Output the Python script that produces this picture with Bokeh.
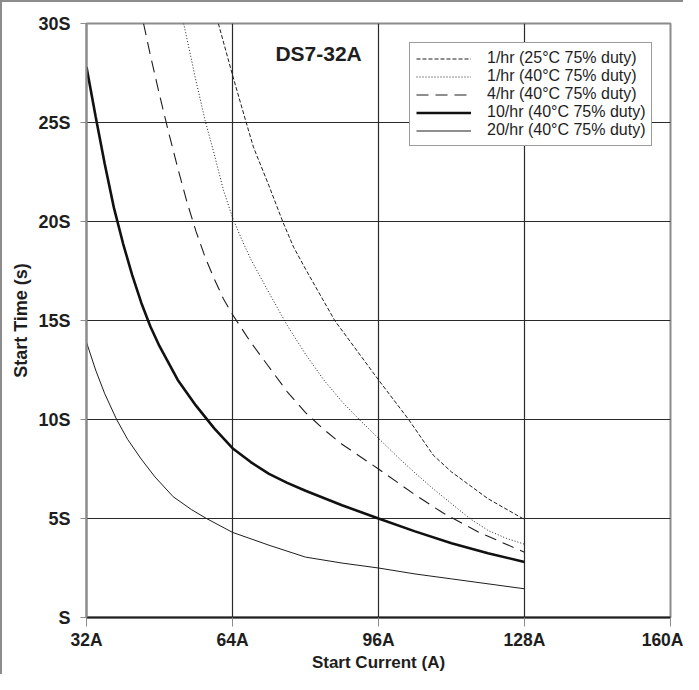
from bokeh.plotting import figure
from bokeh.models import FixedTicker, Legend, LegendItem, Label
from bokeh.embed import file_html
from bokeh.resources import INLINE

# ---- data ----
x_ticks = [32, 64, 96, 128, 160]
x_tick_labels = ["32A", "64A", "96A", "128A", "160A"]
y_ticks = [0, 5, 10, 15, 20, 25, 30]
y_tick_labels = ["S", "5S", "10S", "15S", "20S", "25S", "30S"]

series_names = [
    "1/hr (25°C 75% duty)",
    "1/hr (40°C 75% duty)",
    "4/hr (40°C 75% duty)",
    "10/hr (40°C 75% duty)",
    "20/hr (40°C 75% duty)",
]

x_1hr_25 = [60.9, 64, 67, 68.6, 72, 75, 77.4, 80, 86.4, 96, 102.6, 108, 112, 120, 128]
y_1hr_25 = [30, 27.4, 25.0, 23.75, 21.8, 20.0, 18.7, 17.6, 15.0, 12.0, 10.0, 8.2, 7.35, 6.0, 4.95]

x_1hr_40 = [53.3, 56, 58, 60, 62, 64, 66, 68, 72, 76, 80, 84, 88, 92, 96, 100, 104, 108, 112, 116, 120, 124, 128]
y_1hr_40 = [30, 27.1, 25.1, 23.4, 21.6, 20.2, 19.1, 18.1, 16.4, 14.75, 13.3, 12.0, 10.9, 9.95, 9.05, 8.15, 7.3, 6.5, 5.75, 5.0, 4.4, 4.0, 3.7]

x_4hr = [44.5, 46, 48, 50, 52, 54, 56, 58, 60, 62, 64, 68, 72, 76, 80, 84, 88, 96, 104, 110, 118, 128]
y_4hr = [30, 28.4, 26.4, 24.5, 22.7, 21.0, 19.5, 18.2, 17.1, 16.1, 15.3, 13.9, 12.65, 11.4, 10.35, 9.5, 8.75, 7.5, 6.2, 5.3, 4.3, 3.3]

x_10hr = [32, 34, 36, 38, 40, 42, 44, 46, 48, 52, 56, 60, 64, 68, 72, 76, 80, 88, 96, 104, 112, 120, 128]
y_10hr = [27.8, 25.3, 22.9, 20.7, 18.9, 17.3, 15.9, 14.7, 13.7, 12.0, 10.7, 9.55, 8.55, 7.85, 7.25, 6.8, 6.4, 5.67, 5.0, 4.35, 3.75, 3.25, 2.8]

x_20hr = [32, 34, 36, 38.6, 41, 44, 47, 51, 55, 58.3, 64, 72, 80, 88, 96, 104, 112, 120, 128]
y_20hr = [13.9, 12.5, 11.3, 10.0, 9.0, 8.0, 7.1, 6.1, 5.45, 5.0, 4.3, 3.65, 3.05, 2.75, 2.5, 2.2, 1.95, 1.7, 1.45]

FONT = "Liberation Sans"
DARK = "#1e1e1e"
GRID = "#2a2a2a"
GRAY = "#8c8c8c"

p = figure(
    width=683, height=674,
    x_range=(32, 160), y_range=(0, 30),
    output_backend="svg", toolbar_location=None,
    min_border_left=86, min_border_right=13,
    min_border_top=23, min_border_bottom=52,
)
# thin gray page frame (top and left), drawn without taking layout space
p.styles = {"box-shadow": f"inset 2px 2px 0 0 {GRAY}", "background-color": "white"}
p.background_fill_color = "white"
p.border_fill_alpha = 0.0
p.outline_line_color = GRAY
p.outline_line_width = 2

# axes
p.xaxis.ticker = FixedTicker(ticks=x_ticks)
p.yaxis.ticker = FixedTicker(ticks=y_ticks)
p.xaxis.major_label_overrides = {t: l for t, l in zip(x_ticks, x_tick_labels)}
p.yaxis.major_label_overrides = {t: l for t, l in zip(y_ticks, y_tick_labels)}
p.xaxis.minor_tick_line_color = None
p.yaxis.minor_tick_line_color = None
p.xaxis.major_tick_in = 0
p.xaxis.major_tick_out = 9
p.yaxis.major_tick_in = 0
p.yaxis.major_tick_out = 6
p.xaxis.major_tick_line_color = GRAY
p.yaxis.major_tick_line_color = GRAY
p.xaxis.axis_line_color = DARK
p.xaxis.axis_line_width = 2
p.yaxis.axis_line_color = GRAY
p.yaxis.axis_line_width = 2
for ax in (p.xaxis, p.yaxis):
    ax.major_label_text_font = FONT
    ax.major_label_text_font_style = "bold"
    ax.major_label_text_color = DARK
    ax.axis_label_text_font = FONT
    ax.axis_label_text_font_style = "bold"
    ax.axis_label_text_color = DARK
p.yaxis.major_label_text_font_size = "18px"
p.xaxis.major_label_text_font_size = "17.5px"
p.yaxis.axis_label_text_font_size = "18px"
p.xaxis.axis_label_text_font_size = "17px"
p.xaxis.major_label_standoff = 3
p.yaxis.major_label_standoff = 10
p.xaxis.axis_label = "Start Current (A)"
p.yaxis.axis_label = "Start Time (s)"
p.xaxis.axis_label_standoff = 0
p.yaxis.axis_label_standoff = 4

# grid
p.xgrid.ticker = FixedTicker(ticks=x_ticks)
p.ygrid.ticker = FixedTicker(ticks=y_ticks)
p.grid.grid_line_color = GRID
p.grid.grid_line_width = 1.2
p.grid.grid_line_alpha = 1.0

# curves
r1 = p.line(x_1hr_25, y_1hr_25, line_color=DARK, line_width=1, line_dash="4 2")
r2 = p.line(x_1hr_40, y_1hr_40, line_color=DARK, line_width=1, line_dash="1 2")
r3 = p.line(x_4hr, y_4hr, line_color=DARK, line_width=1.1, line_dash="12 7")
r4 = p.line(x_10hr, y_10hr, line_color="#111111", line_width=2.6)
r5 = p.line(x_20hr, y_20hr, line_color=DARK, line_width=1)

legend = Legend(
    items=[LegendItem(label=n, renderers=[r]) for n, r in zip(series_names, [r1, r2, r3, r4, r5])],
    location=(323, 471),
    label_text_font=FONT,
    label_text_font_size="16px",
    label_text_color=DARK,
    glyph_width=55,
    glyph_height=17,
    label_height=17,
    label_standoff=16,
    spacing=0,
    padding=6,
    margin=0,
    border_line_color="#3a3a3a",
    border_line_width=1.5,
    background_fill_color="white",
    background_fill_alpha=1.0,
)
p.add_layout(legend, "center")

title = Label(
    x=73.4, y=28.47, text="DS7-32A",
    text_font=FONT, text_font_style="bold", text_font_size="21px",
    text_color=DARK, text_align="left", text_baseline="middle",
)
p.add_layout(title)

open("out.html", "w").write(file_html(p, INLINE))
